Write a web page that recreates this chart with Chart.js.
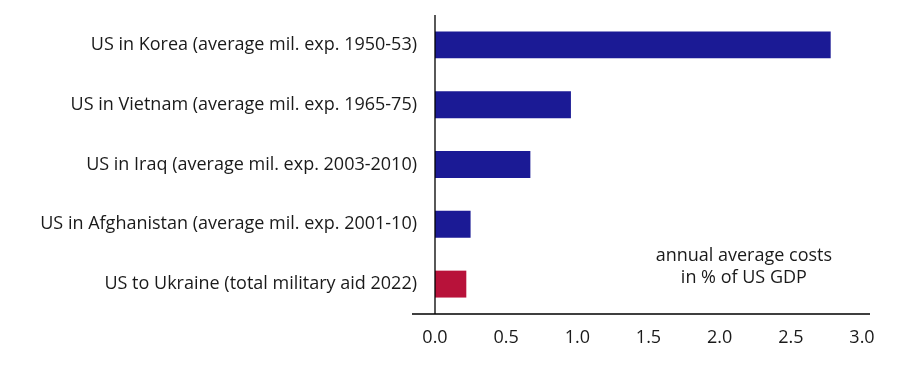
<!DOCTYPE html>
<html>
<head>
<meta charset="utf-8">
<script src="https://cdn.jsdelivr.net/npm/chart.js@4/dist/chart.umd.min.js"></script>
<style>
html,body{margin:0;padding:0;background:#fff;}
#wrap{width:917px;height:365px;}
</style>
</head>
<body>
<div id="wrap"><canvas id="c" width="917" height="365"></canvas></div>
<script>
const categories = [
  "US in Korea (average mil. exp. 1950-53)",
  "US in Vietnam (average mil. exp. 1965-75)",
  "US in Iraq (average mil. exp. 2003-2010)",
  "US in Afghanistan (average mil. exp. 2001-10)",
  "US to Ukraine (total military aid 2022)"
];
const values = [2.78, 0.955, 0.67, 0.25, 0.22];
const barColors = ["#1b1a95", "#1b1a95", "#1b1a95", "#1b1a95", "#b8123a"];
const xTicks = [0, 0.5, 1.0, 1.5, 2.0, 2.5, 3.0];
const noteLines = ["annual average costs", "in % of US GDP"];

const FONT = "'Open Sans', 'Noto Sans', sans-serif";
const TEXT = "#1a1a1a";

const axisLines = {
  id: "axisLines",
  afterDatasetsDraw(chart) {
    const {ctx, chartArea, scales} = chart;
    const x0 = scales.x.getPixelForValue(0);
    ctx.save();
    ctx.strokeStyle = "#000";
    ctx.lineWidth = 1.3;
    ctx.beginPath();
    ctx.moveTo(x0, chartArea.top);
    ctx.lineTo(x0, chartArea.bottom);
    ctx.moveTo(chartArea.left - 23, chartArea.bottom);
    ctx.lineTo(chartArea.right + 8, chartArea.bottom);
    ctx.stroke();
    ctx.fillStyle = TEXT;
    ctx.font = "18px " + FONT;
    ctx.textAlign = "center";
    ctx.textBaseline = "middle";
    const nx = scales.x.getPixelForValue(2.17);
    const ny = scales.y.getPixelForValue(3.5);
    ctx.fillText(noteLines[0], nx, ny + 2);
    ctx.fillText(noteLines[1], nx, ny + 24);
    ctx.restore();
  }
};

new Chart(document.getElementById("c"), {
  type: "bar",
  data: {
    labels: categories,
    datasets: [{
      data: values,
      backgroundColor: barColors,
      borderWidth: 0,
      categoryPercentage: 1.0,
      barPercentage: 0.45
    }]
  },
  options: {
    indexAxis: "y",
    responsive: false,
    animation: false,
    layout: {padding: {left: 0, right: 55, top: 15, bottom: 0}},
    plugins: {legend: {display: false}, tooltip: {enabled: false}},
    scales: {
      x: {
        min: 0, max: 3,
        grid: {display: false, drawTicks: false},
        border: {display: false},
        afterBuildTicks(scale) { scale.ticks = xTicks.map(v => ({value: v})); },
        afterFit(scale) { scale.height = 51; scale.paddingLeft = 0; scale.paddingRight = 0; },
        ticks: {
          color: TEXT,
          font: {family: FONT, size: 18},
          padding: 13,
          maxRotation: 0,
          callback: v => Number(v).toFixed(1)
        }
      },
      y: {
        grid: {display: false, drawTicks: false},
        border: {display: false},
        afterFit(scale) { scale.width = 435; scale.paddingTop = 0; scale.paddingBottom = 0; },
        ticks: {
          color: TEXT,
          font: {family: FONT, size: 18},
          padding: 18
        }
      }
    }
  },
  plugins: [axisLines]
});
</script>
</body>
</html>
